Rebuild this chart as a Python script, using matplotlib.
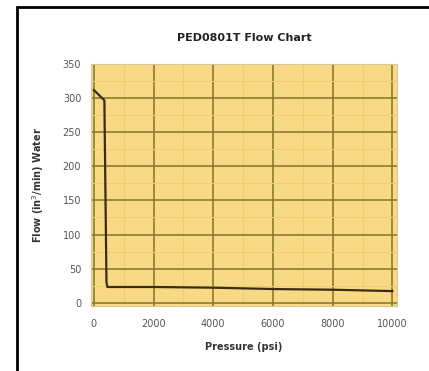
import matplotlib.pyplot as plt
from matplotlib.patches import Rectangle

# data
pressure = [0, 350, 420, 450, 2000, 4000, 6000, 8000, 10000]
flow = [312, 297, 30, 23, 23, 22, 20, 19, 17]

x_ticks = [0, 2000, 4000, 6000, 8000, 10000]
y_ticks = [0, 50, 100, 150, 200, 250, 300, 350]

fig = plt.figure(figsize=(4.29, 3.71), dpi=100)
ax = fig.add_axes([0.212, 0.175, 0.713, 0.652])

# black frame on the left and top of the image
fig.patches.append(Rectangle((0.04, -0.05), 1.1, 1.03, transform=fig.transFigure,
                             fill=False, edgecolor='black', linewidth=2))

ax.set_facecolor('#f8da86')
ax.plot(pressure, flow, color='#3a2c10', linewidth=1.6, zorder=3)

ax.set_xlim(-100, 10150)
ax.set_ylim(-5, 350)
ax.set_xticks(x_ticks)
ax.set_yticks(y_ticks)
ax.set_xticks(range(1000, 10001, 2000), minor=True)
ax.set_yticks(range(25, 350, 50), minor=True)

ax.grid(True, which='minor', color='#efcd73', linewidth=0.8, zorder=1)
ax.grid(True, which='major', color='#8c7a2c', linewidth=1.2, zorder=2)
for gl in ax.xaxis.get_gridlines() + ax.yaxis.get_gridlines():
    gl.set_zorder(2)

for s in ax.spines.values():
    s.set_color('#d8c79a')
ax.tick_params(which='both', length=0, labelsize=7, labelcolor='#555555')
ax.tick_params(axis='x', pad=9)
ax.tick_params(axis='y', pad=7)

ax.set_title('PED0801T Flow Chart', fontsize=8, fontweight='bold', color='#222222', pad=17)
ax.set_xlabel('Pressure (psi)', fontsize=7, fontweight='bold', color='#333333', labelpad=10)
ax.set_ylabel('Flow (in$^3$/min) Water', fontsize=7, fontweight='bold', color='#333333', labelpad=12)

fig.savefig('out.png', dpi=100)
